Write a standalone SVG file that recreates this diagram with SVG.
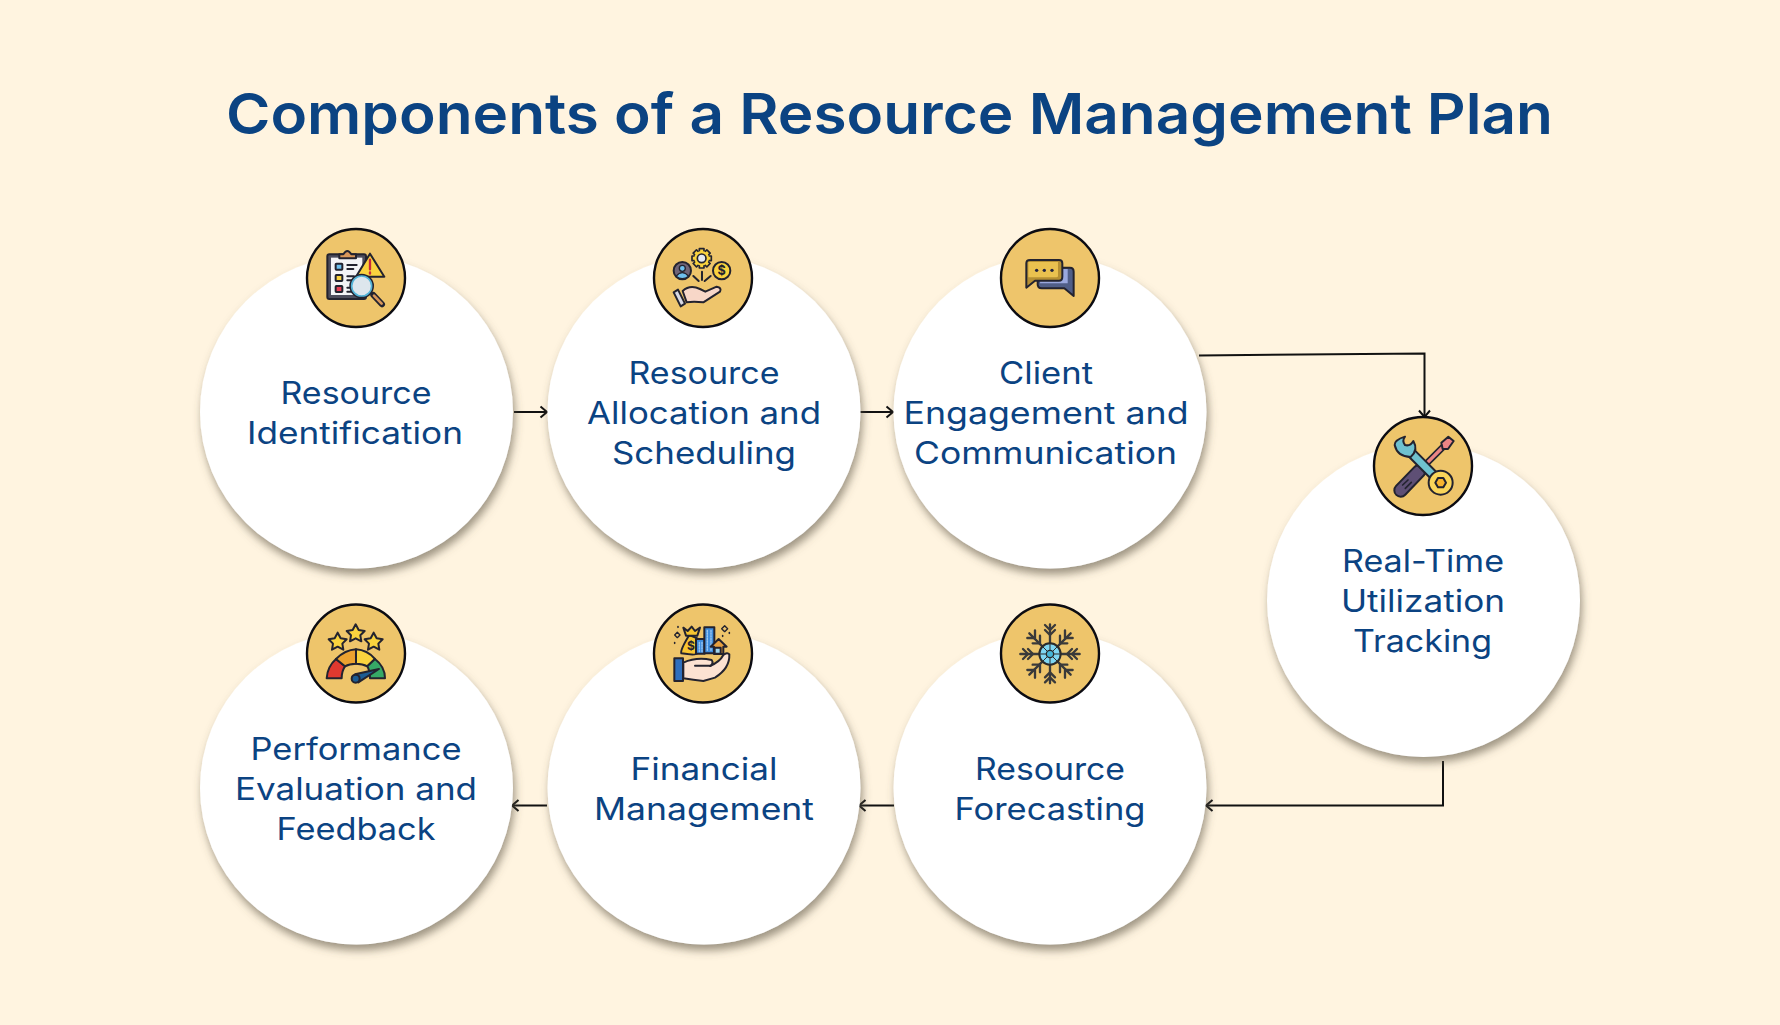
<svg xmlns="http://www.w3.org/2000/svg" width="1780" height="1025" viewBox="0 0 1780 1025">
<style>
text{font-family:"Inter","Noto Sans","Liberation Sans",sans-serif}
.t{font-size:57px;font-weight:600;fill:#0b4382;text-anchor:middle}
.l{font-size:31px;font-weight:400;fill:#0b4382;text-anchor:middle}
.big{fill:#fff;filter:url(#sh)}
.sm{fill:#eec56b;stroke:#0c0c12;stroke-width:2.4}
.c{fill:none;stroke:#111;stroke-width:2}
.i *{stroke-linejoin:round;stroke-linecap:round}
.k{stroke:#23232f;stroke-width:6}
.n{fill:none;stroke:#23232f;stroke-width:6}
</style>
<defs>
<filter id="sh" x="-15%" y="-15%" width="130%" height="130%"><feDropShadow dx="2" dy="6" stdDeviation="4" flood-color="#5f5744" flood-opacity=".6"/></filter>
<marker id="a" markerWidth="12" markerHeight="14" refX="10.5" refY="7" orient="auto" markerUnits="userSpaceOnUse"><path d="M4 1.5L10.5 7L4 12.5" fill="none" stroke="#111" stroke-width="2"/></marker>
</defs>
<rect width="1780" height="1025" fill="#fff4e0"/>
<text class="t" x="889.5" y="134" textLength="1327" lengthAdjust="spacingAndGlyphs">Components of a Resource Management Plan</text>

<g id="connectors">
<path class="c" d="M514 412H547" marker-end="url(#a)"/>
<path class="c" d="M860 412H893" marker-end="url(#a)"/>
<path class="c" d="M1199 355.5L1424.5 353.5V417" marker-end="url(#a)"/>
<path class="c" d="M1443 761V805.5H1206" marker-end="url(#a)"/>
<path class="c" d="M894 805.5H859" marker-end="url(#a)"/>
<path class="c" d="M547 805.5H512" marker-end="url(#a)"/>
</g>

<g id="n1"><circle class="big" cx="356.5" cy="412" r="156.5"/><circle class="sm" cx="356" cy="278" r="49"/>
<g class="i" transform="translate(290 215) scale(.3333)">
<rect class="k" x="112" y="118" width="116" height="134" rx="6" fill="#4d4d5c"/>
<rect x="123" y="128" width="94" height="112" fill="#f4f4f6"/>
<path class="k" d="M148 130V118H160Q172 98 184 118H198V130Z" fill="#d9975a"/>
<rect class="k" x="137" y="146" width="20" height="18" rx="2" fill="#6ec0ee"/>
<rect class="k" x="137" y="180" width="20" height="18" rx="2" fill="#fad33e"/>
<rect class="k" x="137" y="213" width="20" height="18" rx="2" fill="#ea3f55"/>
<path class="n" d="M172 150H200M172 162H190M172 184H192M172 196H185M172 218H185M172 230H185"/>
<path class="k" d="M240 116L283 185H198Z" fill="#fad33e"/>
<path d="M240 134V163M240 172V176" stroke="#c92a3c" stroke-width="7" fill="none"/>
<path d="M250 240L276 268" stroke="#23232f" stroke-width="18"/>
<path d="M252 242L275 266" stroke="#d9975a" stroke-width="8"/>
<circle cx="215" cy="213" r="37" fill="#23232f"/><circle cx="215" cy="213" r="30" fill="#dde6ed" stroke="#54b4d8" stroke-width="5"/>
</g></g>

<g id="n2"><circle class="big" cx="704" cy="412" r="156.5"/><circle class="sm" cx="703" cy="278" r="49"/>
<g class="i" transform="translate(640 215) scale(.3333)">
<path class="n" d="M186 170V195M160 183L176 198M212 183L194 198"/>
<g transform="translate(185 130)" fill="#fad33e" stroke="#23232f" stroke-width="5">
<rect x="-7" y="-29" width="14" height="58"/><rect x="-7" y="-29" width="14" height="58" transform="rotate(45)"/><rect x="-7" y="-29" width="14" height="58" transform="rotate(90)"/><rect x="-7" y="-29" width="14" height="58" transform="rotate(135)"/>
<circle r="22" stroke="none"/><circle r="13" fill="#e5eaf2"/></g>
<circle class="k" cx="127" cy="167" r="26" fill="#6f6477"/>
<path d="M108 184Q127 162 146 184Q127 198 108 184Z" fill="#6ec0ee" stroke="#23232f" stroke-width="4"/>
<circle cx="127" cy="160" r="9" fill="#6ec0ee" stroke="#23232f" stroke-width="4"/>
<circle class="k" cx="245" cy="167" r="26" fill="#fad33e"/>
<text x="245" y="181" font-size="38" font-weight="700" fill="#23232f" text-anchor="middle">$</text>
<path class="k" d="M128 228Q150 208 180 222L196 230L230 215Q246 218 240 230L190 262Q160 258 140 262Z" fill="#f7d7c8"/>
<path class="k" d="M101 232L114 224L135 266L122 274Z" fill="#d7d9e4"/>
</g></g>

<g id="n3"><circle class="big" cx="1050" cy="412" r="156.5"/><circle class="sm" cx="1050" cy="278" r="49"/>
<g class="i" transform="translate(985 215) scale(.3333)">
<path class="k" d="M160 158H255Q266 158 266 170V243L238 220H170Q158 220 158 208Z" fill="#505e87"/>
<path d="M170 162H248V205H165Z" fill="#9aa8de"/>
<path class="k" d="M135 135H222Q232 135 232 145V185Q232 197 222 197H150L124 218V145Q124 135 135 135Z" fill="#b58f33"/>
<path d="M130 141H219V183Q219 187 214 187H130Z" fill="#eac14f"/>
<circle cx="155" cy="166" r="5" fill="#23233f"/><circle cx="178" cy="166" r="5" fill="#23233f"/><circle cx="201" cy="166" r="5" fill="#23233f"/>
</g></g>

<g id="n4"><circle class="big" cx="1423.5" cy="600.5" r="156.5"/>
<circle class="sm" cx="1423" cy="466" r="49"/>
<g class="i" transform="translate(1360 405) scale(.3333)">
<path d="M175 200L260 115" stroke="#23232f" stroke-width="20"/>
<path d="M178 197L258 117" stroke="#ec8585" stroke-width="10"/>
<path class="k" d="M244 113L265 95L281 108L264 132L248 132Z" fill="#ec8585"/>
<path d="M122 256L178 198" stroke="#23232f" stroke-width="44"/>
<path d="M122 256L176 200" stroke="#5e4f75" stroke-width="32"/>
<path d="M128 240L144 225M136 250L154 232" stroke="#23232f" stroke-width="5" fill="none"/>
<path d="M150 140L232 222" stroke="#23232f" stroke-width="32"/>
<path d="M150 140L232 222" stroke="#6fc1cf" stroke-width="20"/>
<path class="k" d="M135 95Q103 105 104 120Q112 155 152 156Q176 135 160 108Q150 125 135 120Q125 108 135 95Z" fill="#6fc1cf"/>
<circle class="k" cx="242" cy="233" r="36" fill="#fad55a"/>
<path class="k" d="M226 233L234 219H250L258 233L250 247H234Z" fill="#f7b42f"/>
</g></g>

<g id="n5"><circle class="big" cx="1050" cy="788" r="156.5"/><circle class="sm" cx="1050" cy="653.5" r="49"/>
<g class="i" transform="translate(985 595) scale(.3333)">
<g fill="none" stroke="#3a3a3a" stroke-width="7">
<path d="M195 88V265M106 177H284M133 115L257 239M257 115L133 239"/>
<path d="M180 90L195 105L210 90M180 105L195 120L210 105M180 262L195 247L210 262M180 247L195 232L210 247"/>
<path d="M114 162L129 177L114 192M129 162L144 177L129 192M276 162L261 177L276 192M261 162L246 177L261 192"/>
<path d="M127 129H150V106M143 145H165V122M263 129H240V106M247 145H225V122M127 225H150V248M143 209H165V232M263 225H240V248M247 209H225V232"/>
</g>
<circle cx="195" cy="177" r="32" fill="#7fd6f2" stroke="#2b2b2b" stroke-width="6"/>
<path d="M195 145V209M163 177H227M172 154L218 200M218 154L172 200" stroke="#2b2b2b" stroke-width="3"/>
<circle cx="195" cy="177" r="11" fill="#45b4d6" stroke="#2b2b2b" stroke-width="4"/>
</g></g>

<g id="n6"><circle class="big" cx="704" cy="788" r="156.5"/><circle class="sm" cx="703" cy="653.5" r="49"/>
<g class="i" transform="translate(640 595) scale(.3333)">
<path class="k" d="M148 120Q120 165 124 175Q170 182 172 175V130Z" fill="#f7c531"/>
<path class="k" d="M130 98L143 108L155 95L165 108L180 98L172 122H138Z" fill="#f7c531"/>
<text x="153" y="165" font-size="36" font-weight="700" fill="#23232f" text-anchor="middle">$</text>
<rect class="k" x="168" y="132" width="26" height="44" fill="#3f8ddd"/>
<rect class="k" x="193" y="97" width="30" height="78" fill="#3f8ddd"/>
<path d="M178 142V170M186 142V170M202 106V166M213 106V166" stroke="#9cc8f2" stroke-width="4" stroke-dasharray="4 4" stroke-linecap="butt"/>
<path class="k" d="M212 155L236 132L260 155L250 155V177H222V155Z" fill="#e6a040"/>
<rect class="k" x="224" y="158" width="18" height="18" fill="#9fd5ee"/>
<path class="k" d="M130 203Q170 185 215 195Q222 205 210 213Q240 200 250 180Q262 170 268 178Q270 220 225 248L190 258Q160 255 130 250Z" fill="#fce2d2"/>
<path class="n" d="M165 212H212"/>
<rect class="k" x="103" y="190" width="26" height="68" fill="#2f6fbd"/>
<path d="M112 112L120 120L112 128L104 120ZM254 92L263 101L254 110L245 101Z" fill="none" stroke="#23232f" stroke-width="4"/>
<path d="M114 95V97M104 143V145M248 122V124M268 113V115" stroke="#23232f" stroke-width="5"/>
</g></g>

<g id="n7"><circle class="big" cx="356.5" cy="788" r="156.5"/><circle class="sm" cx="356" cy="653.5" r="49"/>
<g class="i" transform="translate(290 595) scale(.3333)">
<path class="k" d="M197 88L206 105L224 108L211 121L214 139L197 130L180 139L183 121L170 108L188 105Z" fill="#fad33e"/>
<path class="k" d="M143 113L152 130L170 133L157 146L160 164L143 155L126 164L129 146L116 133L134 130Z" fill="#fad33e"/>
<path class="k" d="M251 113L260 130L278 133L265 146L268 164L251 155L234 164L237 146L224 133L242 130Z" fill="#fad33e"/>
<path class="k" d="M110 250Q112 215 138 192L165 214Q155 228 155 250Z" fill="#e0392f"/>
<path class="k" d="M138 192Q165 165 198 163V206Q178 206 165 214Z" fill="#eca230"/>
<path class="k" d="M198 163Q232 165 255 192L232 214Q218 206 198 206Z" fill="#fad33e"/>
<path class="k" d="M255 192Q285 215 285 250H240Q240 228 232 214Z" fill="#36a866"/>
<path class="k" d="M195 238L267 222L205 262Z" fill="#1c5c93"/>
<circle class="k" cx="197" cy="251" r="12" fill="#1c5c93"/>
</g></g>

<g id="labels">
<text class="l" x="356" y="404" textLength="151" lengthAdjust="spacingAndGlyphs">Resource</text>
<text class="l" x="355" y="444" textLength="216" lengthAdjust="spacingAndGlyphs">Identification</text>
<text class="l" x="704" y="384" textLength="151" lengthAdjust="spacingAndGlyphs">Resource</text>
<text class="l" x="704" y="424" textLength="234" lengthAdjust="spacingAndGlyphs">Allocation and</text>
<text class="l" x="704" y="464" textLength="184" lengthAdjust="spacingAndGlyphs">Scheduling</text>
<text class="l" x="1046" y="384" textLength="94" lengthAdjust="spacingAndGlyphs">Client</text>
<text class="l" x="1046" y="424" textLength="285" lengthAdjust="spacingAndGlyphs">Engagement and</text>
<text class="l" x="1045.5" y="464" textLength="263" lengthAdjust="spacingAndGlyphs">Communication</text>
<text class="l" x="1423" y="572" textLength="162" lengthAdjust="spacingAndGlyphs">Real-Time</text>
<text class="l" x="1423" y="612" textLength="164" lengthAdjust="spacingAndGlyphs">Utilization</text>
<text class="l" x="1422.5" y="652" textLength="139" lengthAdjust="spacingAndGlyphs">Tracking</text>
<text class="l" x="1050" y="780" textLength="150" lengthAdjust="spacingAndGlyphs">Resource</text>
<text class="l" x="1050" y="820" textLength="191" lengthAdjust="spacingAndGlyphs">Forecasting</text>
<text class="l" x="704" y="780" textLength="147" lengthAdjust="spacingAndGlyphs">Financial</text>
<text class="l" x="704" y="820" textLength="220" lengthAdjust="spacingAndGlyphs">Management</text>
<text class="l" x="356" y="760" textLength="211" lengthAdjust="spacingAndGlyphs">Performance</text>
<text class="l" x="356" y="800" textLength="242" lengthAdjust="spacingAndGlyphs">Evaluation and</text>
<text class="l" x="356" y="840" textLength="159" lengthAdjust="spacingAndGlyphs">Feedback</text>
</g>
</svg>
